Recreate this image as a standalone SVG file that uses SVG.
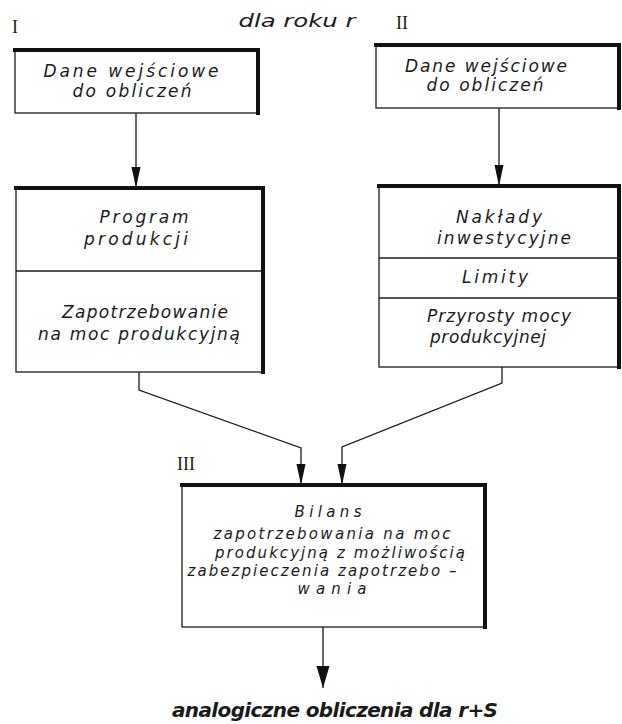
<svg xmlns="http://www.w3.org/2000/svg" width="622" height="724" viewBox="0 0 622 724">
<style>
.bg{fill:#fff}
.box{fill:#fff;stroke:#1a1a1a;stroke-width:1.3}
.thick{stroke:#111;stroke-width:4;fill:none;stroke-linecap:square}
.div{stroke:#1a1a1a;stroke-width:1.3}
.t{font-family:"DejaVu Sans","Liberation Sans",sans-serif;font-style:italic;font-size:17px;fill:#1a1a1a;text-anchor:middle}
.s{font-size:15px}
.rn{font-family:"Liberation Serif","DejaVu Serif",serif;font-size:18px;fill:#1a1a1a}
.con{stroke:#1a1a1a;stroke-width:1.3;fill:none}
</style>
<defs>
<marker id="ah" markerUnits="userSpaceOnUse" markerWidth="22" markerHeight="10" refX="21" refY="5" orient="auto">
<path d="M0,0.5 L21,5 L0,9.5 Z" fill="#111"/>
</marker>
<marker id="ahb" markerUnits="userSpaceOnUse" markerWidth="23" markerHeight="14" refX="22" refY="7" orient="auto">
<path d="M0,0.5 L22,7 L0,13.5 Z" fill="#111"/>
</marker>
</defs>
<rect class="bg" width="622" height="724"/>

<g id="labels">
<text class="rn" x="12" y="33">I</text>
<text class="t" x="297" y="27" textLength="117" lengthAdjust="spacingAndGlyphs">dla roku r</text>
<text class="rn" x="396" y="29">II</text>
<text class="rn" x="177" y="470">III</text>
</g>

<g id="n1">
<rect class="box" x="15" y="50" width="243" height="63"/>
<path class="thick" d="M15,50 H258 V113"/>
<text class="t" x="131" y="77" textLength="175" lengthAdjust="spacing">Dane wejściowe</text>
<text class="t" x="132" y="97" textLength="119" lengthAdjust="spacing">do obliczeń</text>
</g>

<g id="n2">
<rect class="box" x="376" y="45" width="243" height="63"/>
<path class="thick" d="M376,45 H619 V108"/>
<text class="t" x="486" y="72" textLength="162" lengthAdjust="spacing">Dane wejściowe</text>
<text class="t" x="485" y="91" textLength="117" lengthAdjust="spacing">do obliczeń</text>
</g>

<g id="n3">
<rect class="box" x="16" y="188" width="247" height="184"/>
<line class="div" x1="16" y1="271" x2="263" y2="271"/>
<path class="thick" d="M16,188 H263 V372"/>
<text class="t" x="144" y="223" textLength="89" lengthAdjust="spacing">Program</text>
<text class="t" x="136" y="245" textLength="104" lengthAdjust="spacing">produkcji</text>
<text class="t" x="145" y="318" textLength="166" lengthAdjust="spacing">Zapotrzebowanie</text>
<text class="t" x="139" y="340" textLength="202" lengthAdjust="spacing">na moc produkcyjną</text>
</g>

<g id="n4">
<rect class="box" x="379" y="186" width="240" height="181"/>
<line class="div" x1="379" y1="258" x2="619" y2="258"/>
<line class="div" x1="379" y1="298" x2="619" y2="298"/>
<path class="thick" d="M379,186 H619 V367"/>
<text class="t" x="499" y="223" textLength="86" lengthAdjust="spacing">Nakłady</text>
<text class="t" x="504" y="244" textLength="134" lengthAdjust="spacing">inwestycyjne</text>
<text class="t" x="495" y="283" textLength="66" lengthAdjust="spacing">Limity</text>
<text class="t" x="499" y="322" textLength="144" lengthAdjust="spacing">Przyrosty mocy</text>
<text class="t" x="488" y="343" textLength="116" lengthAdjust="spacing">produkcyjnej</text>
</g>

<g id="n5">
<rect class="box" x="182" y="485" width="303" height="142"/>
<path class="thick" d="M182,485 H485 V627"/>
<text class="t s" x="328" y="517" textLength="67" lengthAdjust="spacing">Bilans</text>
<text class="t s" x="332" y="539" textLength="237" lengthAdjust="spacing">zapotrzebowania na moc</text>
<text class="t s" x="340" y="558" textLength="250" lengthAdjust="spacing">produkcyjną z możliwością</text>
<text class="t s" x="322" y="576" textLength="269" lengthAdjust="spacing">zabezpieczenia zapotrzebo –</text>
<text class="t s" x="332" y="594" textLength="69" lengthAdjust="spacing">wania</text>
</g>

<g id="n6">
<text class="t" x="335" y="717" style="font-size:20px;font-weight:bold" textLength="326" lengthAdjust="spacing">analogiczne obliczenia dla r+S</text>
</g>

<g id="connectors">
<line class="con" x1="136" y1="113" x2="136" y2="188" marker-end="url(#ah)"/>
<line class="con" x1="499" y1="108" x2="499" y2="186" marker-end="url(#ah)"/>
<polyline class="con" points="139,372 139,390 301,448 301,485" marker-end="url(#ah)"/>
<polyline class="con" points="502,367 502,383 342,447 342,485" marker-end="url(#ah)"/>
<line class="con" x1="323" y1="627" x2="323" y2="688" marker-end="url(#ahb)"/>
</g>
</svg>
